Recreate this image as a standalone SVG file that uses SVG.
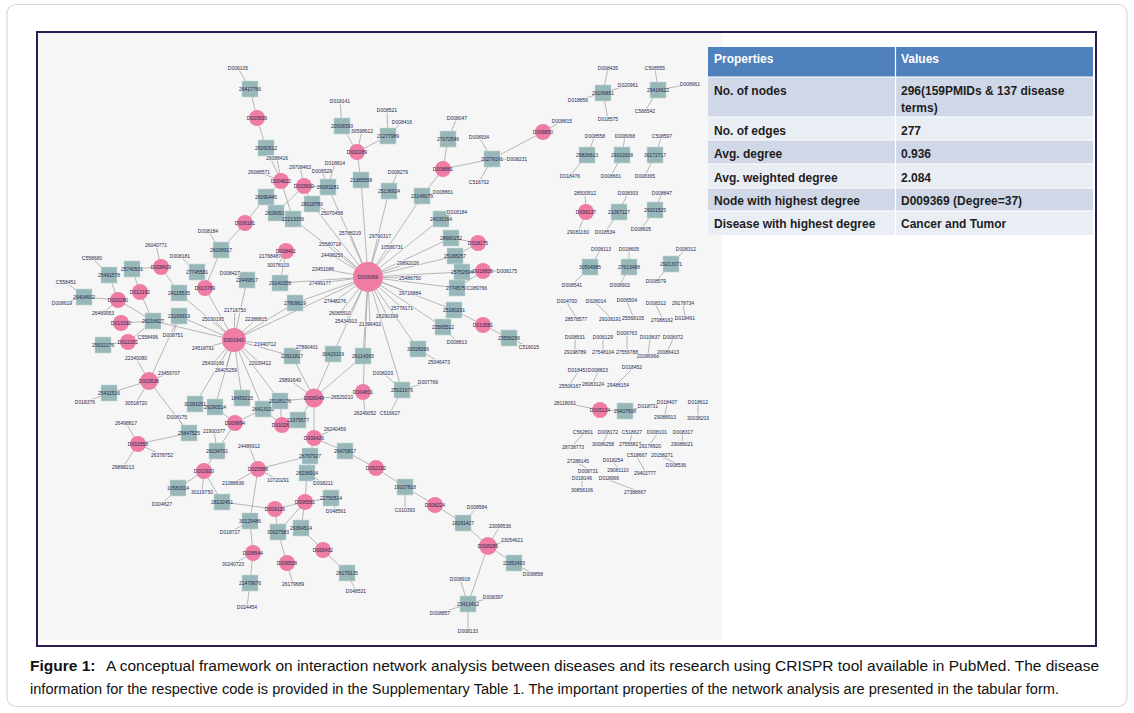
<svg xmlns="http://www.w3.org/2000/svg" width="1134" height="713" viewBox="0 0 1134 713">
<style>
.e{stroke:#a6a6a6;stroke-width:.8;fill:none}
.c{fill:#ef7ca4}
.s{fill:#97b7b8;stroke:#c4d6d6;stroke-width:.6}
.nl{font-family:"Liberation Sans",Arial,sans-serif;font-size:5px;fill:#27294f;text-anchor:middle;dominant-baseline:central}
.ll{font-family:"Liberation Sans",Arial,sans-serif;font-size:5px;fill:#27294f;text-anchor:middle;dominant-baseline:central;stroke:#f6f6f6;stroke-width:1.6;paint-order:stroke}
.th{font-family:"Liberation Sans",Arial,sans-serif;font-size:12px;font-weight:bold;fill:#ffffff}
.td{font-family:"Liberation Sans",Arial,sans-serif;font-size:12px;font-weight:bold;fill:#1e1e1e}
.cap{font-family:"Liberation Sans",Arial,sans-serif;font-size:15.5px;fill:#111111}
</style>
<rect x="0" y="0" width="1134" height="713" fill="#ffffff"/>
<rect x="7" y="4.5" width="1120" height="702" rx="9" fill="#ffffff" stroke="#d9d9d9" stroke-width="1.2"/>
<rect x="37" y="32" width="1059" height="614" fill="#ffffff"/>
<rect x="38" y="33" width="684" height="607" fill="#f6f6f6"/>
<rect x="37" y="32" width="1059" height="614" fill="none" stroke="#2e1b4f" stroke-width="2"/>

<g id="connectors">
<path class="e" d="M238 68L250 89M250 89L257 118M257 118L266 148M266 148L281 181M277 158L281 181M259 172L281 181M281 181L293 219M281 181L266 197M300 167L304 186M304 186L328 187M304 186L276 213M304 186L312 204M322 171L328 187M335 163L328 187M332 213L312 204M266 197L245 223M245 223L221 250M208 231L221 250M221 250L205 288M293 219L368 277M312 204L368 277M328 187L368 277M286 251L270 256M286 251L278 265M286 251L280 283"/>
<path class="e" d="M340 101L342 126M342 126L357 152M362 131L357 152M388 136L357 152M387 110L388 136M402 122L388 136M357 152L361 180M361 180L368 277M389 191L368 277M398 172L389 191M457 118L448 139M448 139L443 169M443 169L492 159M479 137L492 159M517 159L492 159M479 182L492 159M492 159L543 132M562 121L543 132M443 169L422 196M443 192L422 196M422 196L368 277M441 219L368 277M457 212L441 219M451 238L368 277M451 238L478 243M478 243L455 256M455 256L368 277M462 272L368 277M483 271L462 272M483 271L507 271M483 271L457 288M457 288L368 277M477 288L457 288M410 278L368 277M454 310L368 277M454 310L483 325M483 325L509 338M529 347L509 338M443 327L368 277M457 342L443 327M418 349L368 277M439 362L418 349M402 390L368 277M383 373L402 390M428 382L402 390M390 413L402 390M363 392L368 277M365 413L363 392M363 356L368 277M333 354L368 277M363 356L314 398M333 354L314 398"/>
<path class="e" d="M350 233L368 277M380 236L368 277M330 244L368 277M392 247L368 277M408 263L368 277M332 255L368 277M323 269L368 277M320 283L368 277M335 301L368 277M340 313L368 277M346 321L368 277M370 324L368 277M402 308L368 277M387 316L368 277M410 293L368 277M368 277L234 340M368 277L280 283M368 277L295 303"/>
<path class="e" d="M234 340L247 280M234 340L205 288M234 340L295 303M234 340L179 316M234 340L153 321M234 340L179 293M234 340L292 356M234 340L195 404M234 340L215 407M234 340L242 398M234 340L263 409M234 340L280 401M235 310L234 340M213 319L234 340M256 319L234 340M203 348L234 340M265 344L234 340M213 363L234 340M260 363L234 340M226 370L234 340M307 347L292 356M292 356L314 398"/>
<path class="e" d="M205 288L197 272M180 256L197 272M230 273L247 280M161 267L156 245M161 267L132 269M161 267L179 293M109 275L92 258M109 275L118 300M132 269L140 292M84 297L66 282M84 297L62 303M84 297L118 300M118 300L103 313M118 300L153 321M140 292L153 321M121 323L153 321M128 342L103 345M128 342L148 337M128 342L153 321M179 316L173 335M179 316L149 381M149 381L136 358M149 381L169 373M149 381L109 393M109 393L85 402M149 381L136 403M149 381L189 433M189 433L177 417M138 444L189 433M138 444L126 423M138 444L162 455M138 444L123 467M235 423L215 407M235 423L263 409M235 423L217 451M217 451L214 431M217 451L204 471M282 425L280 401M282 425L263 409M282 425L298 420M314 398L280 401M314 398L298 420M314 398L290 380M314 398L342 397M314 398L314 438M314 438L335 429M314 438L310 456M314 438L345 451"/>
<path class="e" d="M204 471L178 488M178 488L162 504M204 471L202 492M204 471L222 502M222 502L275 509M258 469L233 483M258 469L249 446M258 469L278 480M258 469L310 456M258 469L250 521M250 521L253 553M250 521L230 532M310 456L307 473M307 473L323 483M305 502L307 473M305 502L331 498M331 498L336 511M275 509L305 502M305 502L278 532M305 502L301 528M275 509L278 532M278 532L287 563M301 528L323 550M253 553L250 583M253 553L233 564M250 583L247 607M287 563L293 584M323 550L347 573M347 573L356 591M345 451L376 468M376 468L405 487M405 487L405 510M405 487L435 505M435 505L463 523M463 523L477 507M463 523L488 546M488 546L500 526M488 546L512 540M488 546L514 563M514 563L533 574M488 546L468 604M468 604L460 579M468 604L493 597M468 604L440 613M468 604L468 631"/>
<path class="e" d="M608 68L603 93M628 85L603 93M578 100L603 93M608 119L603 93M655 68L658 90M690 84L658 90M645 111L658 90M595 136L587 155M570 176L587 155M625 136L622 155M611 176L622 155M662 136L655 155M645 176L655 155M585 193L586 212M578 232L586 212M628 193L619 212M605 232L619 212M662 193L655 210M641 229L655 210M601 249L590 267M572 285L590 267M629 249L629 267M620 285L629 267M686 249L671 264M656 281L671 264M565 403L600 410M600 410L625 411M648 406L625 411"/>
<path class="e" d="M567 303L576 317M596 303L610 317M627 302L633 316M656 305L662 318M683 305L685 316M575 339L575 350M603 339L603 350M627 335L627 350M650 339L648 354M673 339L668 350M578 372L570 384M598 372L593 382M632 369L618 383M667 404L665 415M698 404L698 416M583 434L573 445M608 434L603 442M632 434L630 442M657 434L650 444M683 434L682 442M578 463L588 469M613 462L618 468M637 457L645 471M662 457L676 463M582 480L582 488M609 480L635 490"/>
</g>

<g id="n-hub1"><circle class="c" cx="368" cy="277" r="15"/><text class="nl" x="368" y="277">D009369</text></g>
<g id="n-hub2"><circle class="c" cx="234" cy="340" r="12"/><text class="nl" x="234" y="340">D001943</text></g>
<g id="n-hub3"><circle class="c" cx="314" cy="398" r="9.5"/><text class="nl" x="314" y="398">D006049</text></g>

<g id="c1"><circle class="c" cx="257" cy="118" r="8"/><text class="nl" x="257" y="118">D003939</text></g>
<g id="c2"><circle class="c" cx="281" cy="181" r="8"/><text class="nl" x="281" y="181">D004622</text></g>
<g id="c3"><circle class="c" cx="304" cy="186" r="8"/><text class="nl" x="304" y="186">D015600</text></g>
<g id="c4"><circle class="c" cx="245" cy="223" r="8"/><text class="nl" x="245" y="223">D006181</text></g>
<g id="c5"><circle class="c" cx="286" cy="251" r="8"/><text class="nl" x="286" y="251">D008401</text></g>
<g id="c6"><circle class="c" cx="357" cy="152" r="8"/><text class="nl" x="357" y="152">D002289</text></g>
<g id="c7"><circle class="c" cx="443" cy="169" r="8"/><text class="nl" x="443" y="169">D008881</text></g>
<g id="c8"><circle class="c" cx="543" cy="132" r="8"/><text class="nl" x="543" y="132">D008850</text></g>
<g id="c9"><circle class="c" cx="478" cy="243" r="8"/><text class="nl" x="478" y="243">D018175</text></g>
<g id="c10"><circle class="c" cx="483" cy="271" r="8"/><text class="nl" x="483" y="271">D018836</text></g>
<g id="c11"><circle class="c" cx="483" cy="325" r="8"/><text class="nl" x="483" y="325">D013581</text></g>
<g id="c12"><circle class="c" cx="363" cy="392" r="8"/><text class="nl" x="363" y="392">D004831</text></g>
<g id="c13"><circle class="c" cx="161" cy="267" r="8"/><text class="nl" x="161" y="267">D008429</text></g>
<g id="c14"><circle class="c" cx="205" cy="288" r="8"/><text class="nl" x="205" y="288">D013789</text></g>
<g id="c15"><circle class="c" cx="118" cy="300" r="8"/><text class="nl" x="118" y="300">D002280</text></g>
<g id="c16"><circle class="c" cx="140" cy="292" r="8"/><text class="nl" x="140" y="292">D012192</text></g>
<g id="c17"><circle class="c" cx="121" cy="323" r="8"/><text class="nl" x="121" y="323">D013192</text></g>
<g id="c18"><circle class="c" cx="128" cy="342" r="8"/><text class="nl" x="128" y="342">D012151</text></g>
<g id="c19"><circle class="c" cx="149" cy="381" r="9"/><text class="nl" x="149" y="381">D003636</text></g>
<g id="c20"><circle class="c" cx="235" cy="423" r="8"/><text class="nl" x="235" y="423">D009894</text></g>
<g id="c21"><circle class="c" cx="282" cy="425" r="8"/><text class="nl" x="282" y="425">D010261</text></g>
<g id="c23"><circle class="c" cx="314" cy="438" r="8"/><text class="nl" x="314" y="438">D006426</text></g>
<g id="c24"><circle class="c" cx="138" cy="444" r="8"/><text class="nl" x="138" y="444">D001558</text></g>
<g id="c25"><circle class="c" cx="204" cy="471" r="8"/><text class="nl" x="204" y="471">D003920</text></g>
<g id="c26"><circle class="c" cx="258" cy="469" r="8"/><text class="nl" x="258" y="469">D020588</text></g>
<g id="c27"><circle class="c" cx="376" cy="468" r="8"/><text class="nl" x="376" y="468">D052192</text></g>
<g id="c28"><circle class="c" cx="305" cy="502" r="8"/><text class="nl" x="305" y="502">D006561</text></g>
<g id="c29"><circle class="c" cx="275" cy="509" r="8"/><text class="nl" x="275" y="509">D009126</text></g>
<g id="c30"><circle class="c" cx="323" cy="550" r="8"/><text class="nl" x="323" y="550">D006432</text></g>
<g id="c31"><circle class="c" cx="253" cy="553" r="8"/><text class="nl" x="253" y="553">D008544</text></g>
<g id="c32"><circle class="c" cx="287" cy="563" r="8"/><text class="nl" x="287" y="563">D008538</text></g>
<g id="c33"><circle class="c" cx="435" cy="505" r="8"/><text class="nl" x="435" y="505">D008224</text></g>
<g id="c34"><circle class="c" cx="488" cy="546" r="9"/><text class="nl" x="488" y="546">D008285</text></g>
<g id="c35"><circle class="c" cx="586" cy="212" r="8"/><text class="nl" x="586" y="212">D008137</text></g>
<g id="c36"><circle class="c" cx="600" cy="410" r="8"/><text class="nl" x="600" y="410">D005124</text></g>

<g id="s1"><rect class="s" x="242" y="81" width="16" height="16"/><text class="nl" x="250" y="89">26417766</text></g>
<g id="s2"><rect class="s" x="258" y="140" width="16" height="16"/><text class="nl" x="266" y="148">26090512</text></g>
<g id="s3"><rect class="s" x="320" y="179" width="16" height="16"/><text class="nl" x="328" y="187">29083281</text></g>
<g id="s4"><rect class="s" x="258" y="189" width="16" height="16"/><text class="nl" x="266" y="197">26090445</text></g>
<g id="s5"><rect class="s" x="268" y="205" width="16" height="16"/><text class="nl" x="276" y="213">26090517</text></g>
<g id="s6"><rect class="s" x="285" y="211" width="16" height="16"/><text class="nl" x="293" y="219">22213336</text></g>
<g id="s7"><rect class="s" x="304" y="196" width="16" height="16"/><text class="nl" x="312" y="204">26018780</text></g>
<g id="s8"><rect class="s" x="213" y="242" width="16" height="16"/><text class="nl" x="221" y="250">26008917</text></g>
<g id="s9"><rect class="s" x="334" y="118" width="16" height="16"/><text class="nl" x="342" y="126">20008393</text></g>
<g id="s10"><rect class="s" x="380" y="128" width="16" height="16"/><text class="nl" x="388" y="136">21277989</text></g>
<g id="s11"><rect class="s" x="353" y="172" width="16" height="16"/><text class="nl" x="361" y="180">21385558</text></g>
<g id="s12"><rect class="s" x="381" y="183" width="16" height="16"/><text class="nl" x="389" y="191">25136924</text></g>
<g id="s13"><rect class="s" x="440" y="131" width="16" height="16"/><text class="nl" x="448" y="139">27072546</text></g>
<g id="s14"><rect class="s" x="484" y="151" width="16" height="16"/><text class="nl" x="492" y="159">30279191</text></g>
<g id="s15"><rect class="s" x="414" y="188" width="16" height="16"/><text class="nl" x="422" y="196">23148079</text></g>
<g id="s16"><rect class="s" x="433" y="211" width="16" height="16"/><text class="nl" x="441" y="219">24030164</text></g>
<g id="s17"><rect class="s" x="443" y="230" width="16" height="16"/><text class="nl" x="451" y="238">28680152</text></g>
<g id="s18"><rect class="s" x="447" y="248" width="16" height="16"/><text class="nl" x="455" y="256">25188257</text></g>
<g id="s19"><rect class="s" x="454" y="264" width="16" height="16"/><text class="nl" x="462" y="272">25752694</text></g>
<g id="s20"><rect class="s" x="449" y="280" width="16" height="16"/><text class="nl" x="457" y="288">27745757</text></g>
<g id="s21"><rect class="s" x="446" y="302" width="16" height="16"/><text class="nl" x="454" y="310">25180291</text></g>
<g id="s22"><rect class="s" x="501" y="330" width="16" height="16"/><text class="nl" x="509" y="338">23556296</text></g>
<g id="s23"><rect class="s" x="435" y="319" width="16" height="16"/><text class="nl" x="443" y="327">23565512</text></g>
<g id="s24"><rect class="s" x="410" y="341" width="16" height="16"/><text class="nl" x="418" y="349">30028266</text></g>
<g id="s25"><rect class="s" x="394" y="382" width="16" height="16"/><text class="nl" x="402" y="390">25021076</text></g>
<g id="s26"><rect class="s" x="355" y="348" width="16" height="16"/><text class="nl" x="363" y="356">26114365</text></g>
<g id="s27"><rect class="s" x="325" y="346" width="16" height="16"/><text class="nl" x="333" y="354">30420119</text></g>
<g id="s28"><rect class="s" x="101" y="267" width="16" height="16"/><text class="nl" x="109" y="275">25491578</text></g>
<g id="s29"><rect class="s" x="124" y="261" width="16" height="16"/><text class="nl" x="132" y="269">25740531</text></g>
<g id="s30"><rect class="s" x="189" y="264" width="16" height="16"/><text class="nl" x="197" y="272">27745581</text></g>
<g id="s31"><rect class="s" x="239" y="272" width="16" height="16"/><text class="nl" x="247" y="280">22449817</text></g>
<g id="s32"><rect class="s" x="272" y="275" width="16" height="16"/><text class="nl" x="280" y="283">29140358</text></g>
<g id="s33"><rect class="s" x="287" y="295" width="16" height="16"/><text class="nl" x="295" y="303">27809619</text></g>
<g id="s34"><rect class="s" x="76" y="289" width="16" height="16"/><text class="nl" x="84" y="297">26404602</text></g>
<g id="s35"><rect class="s" x="145" y="313" width="16" height="16"/><text class="nl" x="153" y="321">26216627</text></g>
<g id="s36"><rect class="s" x="171" y="308" width="16" height="16"/><text class="nl" x="179" y="316">23169919</text></g>
<g id="s37"><rect class="s" x="95" y="337" width="16" height="16"/><text class="nl" x="103" y="345">25632176</text></g>
<g id="s38"><rect class="s" x="101" y="385" width="16" height="16"/><text class="nl" x="109" y="393">25432516</text></g>
<g id="s39"><rect class="s" x="187" y="396" width="16" height="16"/><text class="nl" x="195" y="404">30281051</text></g>
<g id="s40"><rect class="s" x="207" y="399" width="16" height="16"/><text class="nl" x="215" y="407">29290514</text></g>
<g id="s41"><rect class="s" x="234" y="390" width="16" height="16"/><text class="nl" x="242" y="398">18459215</text></g>
<g id="s42"><rect class="s" x="255" y="401" width="16" height="16"/><text class="nl" x="263" y="409">26413128</text></g>
<g id="s43"><rect class="s" x="272" y="393" width="16" height="16"/><text class="nl" x="280" y="401">25105176</text></g>
<g id="s44"><rect class="s" x="181" y="425" width="16" height="16"/><text class="nl" x="189" y="433">25847525</text></g>
<g id="s45"><rect class="s" x="209" y="443" width="16" height="16"/><text class="nl" x="217" y="451">28234701</text></g>
<g id="s46"><rect class="s" x="290" y="412" width="16" height="16"/><text class="nl" x="298" y="420">22375577</text></g>
<g id="s48"><rect class="s" x="170" y="480" width="16" height="16"/><text class="nl" x="178" y="488">10583314</text></g>
<g id="s49"><rect class="s" x="214" y="494" width="16" height="16"/><text class="nl" x="222" y="502">28132451</text></g>
<g id="s50"><rect class="s" x="302" y="448" width="16" height="16"/><text class="nl" x="310" y="456">26767927</text></g>
<g id="s51"><rect class="s" x="337" y="443" width="16" height="16"/><text class="nl" x="345" y="451">26470817</text></g>
<g id="s52"><rect class="s" x="299" y="465" width="16" height="16"/><text class="nl" x="307" y="473">26236914</text></g>
<g id="s53"><rect class="s" x="323" y="490" width="16" height="16"/><text class="nl" x="331" y="498">22750514</text></g>
<g id="s54"><rect class="s" x="242" y="513" width="16" height="16"/><text class="nl" x="250" y="521">30129486</text></g>
<g id="s55"><rect class="s" x="270" y="524" width="16" height="16"/><text class="nl" x="278" y="532">30027583</text></g>
<g id="s56"><rect class="s" x="293" y="520" width="16" height="16"/><text class="nl" x="301" y="528">26364514</text></g>
<g id="s57"><rect class="s" x="242" y="575" width="16" height="16"/><text class="nl" x="250" y="583">21479676</text></g>
<g id="s58"><rect class="s" x="339" y="565" width="16" height="16"/><text class="nl" x="347" y="573">26179135</text></g>
<g id="s59"><rect class="s" x="397" y="479" width="16" height="16"/><text class="nl" x="405" y="487">19107818</text></g>
<g id="s60"><rect class="s" x="455" y="515" width="16" height="16"/><text class="nl" x="463" y="523">18291427</text></g>
<g id="s61"><rect class="s" x="506" y="555" width="16" height="16"/><text class="nl" x="514" y="563">23353493</text></g>
<g id="s62"><rect class="s" x="460" y="596" width="16" height="16"/><text class="nl" x="468" y="604">23413412</text></g>
<g id="s63"><rect class="s" x="171" y="285" width="16" height="16"/><text class="nl" x="179" y="293">24115535</text></g>
<g id="s64"><rect class="s" x="284" y="348" width="16" height="16"/><text class="nl" x="292" y="356">22921817</text></g>
<g id="r1"><rect class="s" x="595" y="85" width="16" height="16"/><text class="nl" x="603" y="93">29106851</text></g>
<g id="r2"><rect class="s" x="650" y="82" width="16" height="16"/><text class="nl" x="658" y="90">29416622</text></g>
<g id="r3"><rect class="s" x="579" y="147" width="16" height="16"/><text class="nl" x="587" y="155">29826613</text></g>
<g id="r4"><rect class="s" x="614" y="147" width="16" height="16"/><text class="nl" x="622" y="155">29102008</text></g>
<g id="r5"><rect class="s" x="647" y="147" width="16" height="16"/><text class="nl" x="655" y="155">30172717</text></g>
<g id="r6"><rect class="s" x="611" y="204" width="16" height="16"/><text class="nl" x="619" y="212">21067127</text></g>
<g id="r7"><rect class="s" x="647" y="202" width="16" height="16"/><text class="nl" x="655" y="210">29201525</text></g>
<g id="r8"><rect class="s" x="582" y="259" width="16" height="16"/><text class="nl" x="590" y="267">30504985</text></g>
<g id="r9"><rect class="s" x="621" y="259" width="16" height="16"/><text class="nl" x="629" y="267">27613488</text></g>
<g id="r10"><rect class="s" x="663" y="256" width="16" height="16"/><text class="nl" x="671" y="264">29213071</text></g>
<g id="r11"><rect class="s" x="617" y="403" width="16" height="16"/><text class="nl" x="625" y="411">29437608</text></g>

<g id="leaf-labels">
<g id="t1"><text class="ll" x="238" y="68">D006105</text></g>
<g id="t2"><text class="ll" x="277" y="158">26088416</text></g>
<g id="t3"><text class="ll" x="259" y="172">26088571</text></g>
<g id="t4"><text class="ll" x="300" y="167">29708463</text></g>
<g id="t5"><text class="ll" x="322" y="171">D006529</text></g>
<g id="t6"><text class="ll" x="335" y="163">D018814</text></g>
<g id="t7"><text class="ll" x="332" y="213">25070458</text></g>
<g id="t8"><text class="ll" x="208" y="231">D008184</text></g>
<g id="t9"><text class="ll" x="156" y="245">26040771</text></g>
<g id="t10"><text class="ll" x="270" y="256">21768487</text></g>
<g id="t11"><text class="ll" x="278" y="265">30078103</text></g>
<g id="t12"><text class="ll" x="340" y="101">D018141</text></g>
<g id="t13"><text class="ll" x="362" y="131">30598612</text></g>
<g id="t14"><text class="ll" x="387" y="110">D008521</text></g>
<g id="t15"><text class="ll" x="402" y="122">D008416</text></g>
<g id="t16"><text class="ll" x="398" y="172">D008279</text></g>
<g id="t17"><text class="ll" x="457" y="118">D008047</text></g>
<g id="t18"><text class="ll" x="479" y="137">D008934</text></g>
<g id="t19"><text class="ll" x="517" y="159">D008231</text></g>
<g id="t20"><text class="ll" x="479" y="182">C516702</text></g>
<g id="t21"><text class="ll" x="562" y="121">D008815</text></g>
<g id="t22"><text class="ll" x="443" y="192">D008861</text></g>
<g id="t23"><text class="ll" x="457" y="212">D018184</text></g>
<g id="t24"><text class="ll" x="507" y="271">D008175</text></g>
<g id="t25"><text class="ll" x="477" y="288">C089766</text></g>
<g id="t26"><text class="ll" x="410" y="278">25486750</text></g>
<g id="t27"><text class="ll" x="529" y="347">C516015</text></g>
<g id="t28"><text class="ll" x="457" y="342">D008813</text></g>
<g id="t29"><text class="ll" x="439" y="362">25046473</text></g>
<g id="t30"><text class="ll" x="383" y="373">D008203</text></g>
<g id="t31"><text class="ll" x="428" y="382">D007766</text></g>
<g id="t32"><text class="ll" x="365" y="413">26249052</text></g>
<g id="t33"><text class="ll" x="390" y="413">C516627</text></g>
<g id="h1"><text class="ll" x="350" y="233">25788219</text></g>
<g id="h2"><text class="ll" x="380" y="236">29790317</text></g>
<g id="h3"><text class="ll" x="330" y="244">25580718</text></g>
<g id="h4"><text class="ll" x="392" y="247">10586731</text></g>
<g id="h5"><text class="ll" x="408" y="263">29892026</text></g>
<g id="h6"><text class="ll" x="332" y="255">24498256</text></g>
<g id="h7"><text class="ll" x="323" y="269">23451086</text></g>
<g id="h8"><text class="ll" x="320" y="283">27499177</text></g>
<g id="h9"><text class="ll" x="335" y="301">27448276</text></g>
<g id="h10"><text class="ll" x="340" y="313">26065510</text></g>
<g id="h11"><text class="ll" x="346" y="321">25434913</text></g>
<g id="h12"><text class="ll" x="370" y="324">21396402</text></g>
<g id="h13"><text class="ll" x="402" y="308">25778171</text></g>
<g id="h14"><text class="ll" x="387" y="316">28290399</text></g>
<g id="h15"><text class="ll" x="410" y="293">29716884</text></g>
<g id="g1"><text class="ll" x="235" y="310">21716750</text></g>
<g id="g2"><text class="ll" x="213" y="319">25030195</text></g>
<g id="g3"><text class="ll" x="256" y="319">22388815</text></g>
<g id="g4"><text class="ll" x="203" y="348">24518791</text></g>
<g id="g5"><text class="ll" x="265" y="344">21940712</text></g>
<g id="g6"><text class="ll" x="213" y="363">25430166</text></g>
<g id="g7"><text class="ll" x="260" y="363">22039412</text></g>
<g id="g8"><text class="ll" x="226" y="370">26405259</text></g>
<g id="g9"><text class="ll" x="307" y="347">27890401</text></g>
<g id="t34"><text class="ll" x="92" y="258">C558680</text></g>
<g id="t35"><text class="ll" x="180" y="256">D008181</text></g>
<g id="t36"><text class="ll" x="230" y="273">D008427</text></g>
<g id="t37"><text class="ll" x="66" y="282">C558451</text></g>
<g id="t38"><text class="ll" x="62" y="303">D008619</text></g>
<g id="t39"><text class="ll" x="103" y="313">26469953</text></g>
<g id="t40"><text class="ll" x="148" y="337">C558496</text></g>
<g id="t41"><text class="ll" x="173" y="335">D008751</text></g>
<g id="t42"><text class="ll" x="136" y="358">22340080</text></g>
<g id="t43"><text class="ll" x="169" y="373">23459707</text></g>
<g id="t44"><text class="ll" x="85" y="402">D018376</text></g>
<g id="t45"><text class="ll" x="136" y="403">30518720</text></g>
<g id="t46"><text class="ll" x="177" y="417">D008175</text></g>
<g id="t47"><text class="ll" x="126" y="423">26498817</text></g>
<g id="t48"><text class="ll" x="162" y="455">26378752</text></g>
<g id="t49"><text class="ll" x="123" y="467">29898213</text></g>
<g id="t50"><text class="ll" x="214" y="431">21900377</text></g>
<g id="t51"><text class="ll" x="290" y="380">29891640</text></g>
<g id="t52"><text class="ll" x="342" y="397">26529210</text></g>
<g id="t53"><text class="ll" x="335" y="429">26240459</text></g>
<g id="t54"><text class="ll" x="162" y="504">D004627</text></g>
<g id="t55"><text class="ll" x="202" y="492">30119750</text></g>
<g id="t56"><text class="ll" x="233" y="483">21088636</text></g>
<g id="t57"><text class="ll" x="249" y="446">24486912</text></g>
<g id="t58"><text class="ll" x="278" y="480">10720291</text></g>
<g id="t59"><text class="ll" x="323" y="483">D008211</text></g>
<g id="t60"><text class="ll" x="336" y="511">D048561</text></g>
<g id="t61"><text class="ll" x="230" y="532">D018727</text></g>
<g id="t62"><text class="ll" x="233" y="564">30240723</text></g>
<g id="t63"><text class="ll" x="247" y="607">D024454</text></g>
<g id="t64"><text class="ll" x="293" y="584">26179689</text></g>
<g id="t65"><text class="ll" x="356" y="591">D048531</text></g>
<g id="t66"><text class="ll" x="405" y="510">C010393</text></g>
<g id="t67"><text class="ll" x="477" y="507">D008584</text></g>
<g id="t68"><text class="ll" x="500" y="526">23099536</text></g>
<g id="t69"><text class="ll" x="512" y="540">23054621</text></g>
<g id="t70"><text class="ll" x="533" y="574">D008858</text></g>
<g id="t71"><text class="ll" x="460" y="579">D008918</text></g>
<g id="t72"><text class="ll" x="493" y="597">D008397</text></g>
<g id="t73"><text class="ll" x="440" y="613">D008857</text></g>
<g id="t74"><text class="ll" x="468" y="631">D008133</text></g>
<g id="u1"><text class="ll" x="608" y="68">D008435</text></g>
<g id="u2"><text class="ll" x="628" y="85">D020961</text></g>
<g id="u3"><text class="ll" x="578" y="100">D018856</text></g>
<g id="u4"><text class="ll" x="608" y="119">D018575</text></g>
<g id="u5"><text class="ll" x="655" y="68">C508555</text></g>
<g id="u6"><text class="ll" x="690" y="84">D008961</text></g>
<g id="u7"><text class="ll" x="645" y="111">C566542</text></g>
<g id="u8"><text class="ll" x="595" y="136">D008558</text></g>
<g id="u9"><text class="ll" x="570" y="176">D018476</text></g>
<g id="u10"><text class="ll" x="625" y="136">D008068</text></g>
<g id="u11"><text class="ll" x="611" y="176">D008661</text></g>
<g id="u12"><text class="ll" x="662" y="136">C508597</text></g>
<g id="u13"><text class="ll" x="645" y="176">D008365</text></g>
<g id="u14"><text class="ll" x="585" y="193">28500512</text></g>
<g id="u15"><text class="ll" x="578" y="232">29081160</text></g>
<g id="u16"><text class="ll" x="628" y="193">D008303</text></g>
<g id="u17"><text class="ll" x="605" y="232">D018534</text></g>
<g id="u18"><text class="ll" x="662" y="193">D008847</text></g>
<g id="u19"><text class="ll" x="641" y="229">D008605</text></g>
<g id="u20"><text class="ll" x="601" y="249">D008113</text></g>
<g id="u21"><text class="ll" x="572" y="285">D008541</text></g>
<g id="u22"><text class="ll" x="629" y="249">D018605</text></g>
<g id="u23"><text class="ll" x="620" y="285">D008902</text></g>
<g id="u24"><text class="ll" x="686" y="249">D008312</text></g>
<g id="u25"><text class="ll" x="656" y="281">D008579</text></g>
<g id="u26"><text class="ll" x="567" y="301">D004700</text></g>
<g id="u27"><text class="ll" x="576" y="319">28578577</text></g>
<g id="u28"><text class="ll" x="596" y="301">D028014</text></g>
<g id="u29"><text class="ll" x="610" y="319">29108191</text></g>
<g id="u30"><text class="ll" x="627" y="300">D006504</text></g>
<g id="u31"><text class="ll" x="633" y="318">25568105</text></g>
<g id="u32"><text class="ll" x="656" y="303">D008312</text></g>
<g id="u33"><text class="ll" x="662" y="320">27088162</text></g>
<g id="u34"><text class="ll" x="683" y="303">29178734</text></g>
<g id="u35"><text class="ll" x="685" y="318">D018491</text></g>
<g id="u36"><text class="ll" x="575" y="337">D008531</text></g>
<g id="u37"><text class="ll" x="575" y="352">29198789</text></g>
<g id="u38"><text class="ll" x="603" y="337">D006129</text></g>
<g id="u39"><text class="ll" x="603" y="352">27548104</text></g>
<g id="u40"><text class="ll" x="627" y="333">D006763</text></g>
<g id="u41"><text class="ll" x="627" y="352">27556788</text></g>
<g id="u42"><text class="ll" x="650" y="337">D019637</text></g>
<g id="u43"><text class="ll" x="648" y="356">20086968</text></g>
<g id="u44"><text class="ll" x="673" y="337">D008372</text></g>
<g id="u45"><text class="ll" x="668" y="352">20086413</text></g>
<g id="u46"><text class="ll" x="578" y="370">D018451</text></g>
<g id="u47"><text class="ll" x="570" y="386">25506167</text></g>
<g id="u48"><text class="ll" x="598" y="370">D008823</text></g>
<g id="u49"><text class="ll" x="593" y="384">28083124</text></g>
<g id="u50"><text class="ll" x="632" y="367">D018452</text></g>
<g id="u51"><text class="ll" x="618" y="385">29486154</text></g>
<g id="u52"><text class="ll" x="565" y="403">28118061</text></g>
<g id="u53"><text class="ll" x="648" y="406">D018731</text></g>
<g id="u54"><text class="ll" x="667" y="402">D018407</text></g>
<g id="u55"><text class="ll" x="665" y="417">29088913</text></g>
<g id="u56"><text class="ll" x="698" y="402">D018612</text></g>
<g id="u57"><text class="ll" x="698" y="418">30038203</text></g>
<g id="u58"><text class="ll" x="583" y="432">C562801</text></g>
<g id="u59"><text class="ll" x="573" y="447">28738773</text></g>
<g id="u60"><text class="ll" x="608" y="432">D008172</text></g>
<g id="u61"><text class="ll" x="603" y="444">30086258</text></g>
<g id="u62"><text class="ll" x="632" y="432">C518627</text></g>
<g id="u63"><text class="ll" x="630" y="444">27556817</text></g>
<g id="u64"><text class="ll" x="657" y="432">D008101</text></g>
<g id="u65"><text class="ll" x="650" y="446">29178920</text></g>
<g id="u66"><text class="ll" x="683" y="432">D008317</text></g>
<g id="u67"><text class="ll" x="682" y="444">29088021</text></g>
<g id="u68"><text class="ll" x="578" y="461">27288145</text></g>
<g id="u69"><text class="ll" x="588" y="471">D008731</text></g>
<g id="u70"><text class="ll" x="613" y="460">D018254</text></g>
<g id="u71"><text class="ll" x="618" y="470">29081110</text></g>
<g id="u72"><text class="ll" x="637" y="455">C518667</text></g>
<g id="u73"><text class="ll" x="645" y="473">29402777</text></g>
<g id="u74"><text class="ll" x="662" y="455">20158271</text></g>
<g id="u75"><text class="ll" x="676" y="465">D008536</text></g>
<g id="u76"><text class="ll" x="582" y="478">D018146</text></g>
<g id="u77"><text class="ll" x="582" y="490">30858106</text></g>
<g id="u78"><text class="ll" x="609" y="478">D018966</text></g>
<g id="u79"><text class="ll" x="635" y="492">27388667</text></g>
</g>

<g id="properties-table">
<rect x="708" y="47" width="385" height="30" fill="#4f81bd"/>
<rect x="708" y="77" width="385" height="40" fill="#d0d8e8"/>
<rect x="708" y="117" width="385" height="23" fill="#e9edf4"/>
<rect x="708" y="140" width="385" height="24" fill="#d0d8e8"/>
<rect x="708" y="164" width="385" height="24" fill="#e9edf4"/>
<rect x="708" y="188" width="385" height="23" fill="#d0d8e8"/>
<rect x="708" y="211" width="385" height="24" fill="#e9edf4"/>
<path d="M708 77H1093M708 117H1093M708 140H1093M708 164H1093M708 188H1093M708 211H1093M895.5 47V235" stroke="#ffffff" stroke-width="1.2" fill="none"/>
<text class="th" x="714" y="63">Properties</text>
<text class="th" x="901" y="63">Values</text>
<text class="td" x="714" y="95">No. of nodes</text>
<text class="td" x="901" y="95">296(159PMIDs &amp; 137 disease</text>
<text class="td" x="901" y="112">terms)</text>
<text class="td" x="714" y="135">No. of edges</text>
<text class="td" x="901" y="135">277</text>
<text class="td" x="714" y="158">Avg. degree</text>
<text class="td" x="901" y="158">0.936</text>
<text class="td" x="714" y="182">Avg. weighted degree</text>
<text class="td" x="901" y="182">2.084</text>
<text class="td" x="714" y="205">Node with highest degree</text>
<text class="td" x="901" y="205">D009369 (Degree=37)</text>
<text class="td" x="714" y="228">Disease with highest degree</text>
<text class="td" x="901" y="228">Cancer and Tumor</text>
</g>

<g id="caption">
<text class="cap" x="30" y="671" font-weight="bold">Figure 1:</text>
<text class="cap" x="106" y="671" textLength="993" lengthAdjust="spacingAndGlyphs">A conceptual framework on interaction network analysis between diseases and its research using CRISPR tool available in PubMed. The disease</text>
<text class="cap" x="30" y="694" textLength="1029" lengthAdjust="spacingAndGlyphs">information for the respective code is provided in the Supplementary Table 1. The important properties of the network analysis are presented in the tabular form.</text>
</g>
</svg>
